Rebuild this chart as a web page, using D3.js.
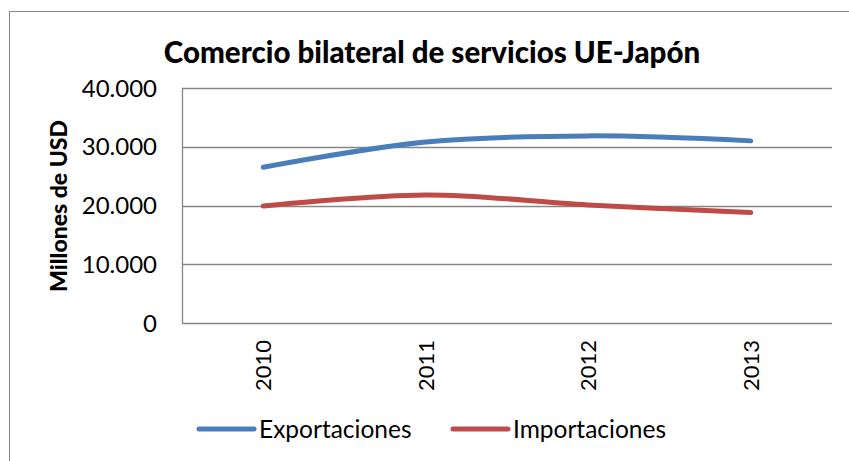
<!DOCTYPE html>
<html>
<head>
<meta charset="utf-8">
<script src="https://cdn.jsdelivr.net/npm/d3@7"></script>
<style>
  html, body { margin: 0; padding: 0; background: #fff; }
  svg { display: block; font-family: Lato, "Open Sans", sans-serif; }
</style>
</head>
<body>
<div id="container"></div>
<script>
'use strict';
(function() {
    // chart data
    var years = ['2010', '2011', '2012', '2013'];
    var exportaciones = [26500, 30800, 31850, 31000];
    var importaciones = [19900, 21800, 20100, 18800];
    var yTicks = [0, 10000, 20000, 30000, 40000];
    var seriesNames = ['Exportaciones', 'Importaciones'];
    var colors = { 'Exportaciones': '#4A7EBB', 'Importaciones': '#BE4B48' };

    var W = 849, H = 461;
    var plot = { left: 182, right: 832, top: 88, bottom: 323 };

    var svg = d3.select('#container').append('svg')
        .attr('width', W)
        .attr('height', H);

    // outer chart border (runs past the picture on right and bottom)
    svg.append('rect')
        .attr('x', 9.5).attr('y', 11.5)
        .attr('width', 860).attr('height', 470)
        .attr('fill', 'none')
        .attr('stroke', '#868686');

    var x = d3.scaleBand()
        .domain(years)
        .range([plot.left, plot.right]);
    var y = d3.scaleLinear()
        .domain([0, 40000])
        .range([plot.bottom, plot.top]);

    var fmt = function(v) {
        return d3.format(',')(v).replace(/,/g, '.');
    };

    // gridlines
    svg.append('g')
        .attr('class', 'grid')
        .selectAll('line')
        .data(yTicks.filter(function(d) { return d > 0; }))
        .enter().append('line')
        .attr('x1', plot.left).attr('x2', plot.right)
        .attr('y1', function(d) { return Math.round(y(d)) + 0.5; })
        .attr('y2', function(d) { return Math.round(y(d)) + 0.5; })
        .attr('stroke', '#868686')
        .attr('stroke-width', 1.3);

    // axis lines
    svg.append('line')
        .attr('x1', plot.left + 0.5).attr('x2', plot.left + 0.5)
        .attr('y1', plot.top).attr('y2', plot.bottom + 0.5)
        .attr('stroke', '#868686').attr('stroke-width', 1.3);
    svg.append('line')
        .attr('x1', plot.left).attr('x2', plot.right)
        .attr('y1', plot.bottom + 0.5).attr('y2', plot.bottom + 0.5)
        .attr('stroke', '#868686').attr('stroke-width', 1.3);

    // y tick labels
    svg.append('g')
        .selectAll('text')
        .data(yTicks)
        .enter().append('text')
        .attr('x', 157)
        .attr('y', function(d) { return y(d); })
        .attr('dy', '0.36em')
        .attr('text-anchor', 'end')
        .style('font-size', '24px')
        .attr('fill', '#000')
        .text(fmt);

    // x tick labels, rotated
    svg.append('g')
        .selectAll('text')
        .data(years)
        .enter().append('text')
        .attr('transform', function(d) {
            return 'translate(' + (x(d) + x.bandwidth() / 2) + ',340) rotate(-90)';
        })
        .attr('dy', '0.36em')
        .attr('text-anchor', 'end')
        .style('font-size', '22px')
        .attr('fill', '#000')
        .text(function(d) { return d; });

    // y axis title
    svg.append('text')
        .attr('transform', 'translate(59,206) rotate(-90)')
        .attr('dy', '0.36em')
        .attr('text-anchor', 'middle')
        .style('font-size', '23px')
        .style('font-weight', '900')
        .attr('fill', '#000')
        .text('Millones de USD');

    // chart title
    svg.append('text')
        .attr('x', 432)
        .attr('y', 63)
        .attr('text-anchor', 'middle')
        .style('font-size', '29.5px')
        .style('font-weight', '900')
        .attr('fill', '#000')
        .text('Comercio bilateral de servicios UE-Japón');

    // lines
    var line = d3.line()
        .x(function(d, i) { return x(years[i]) + x.bandwidth() / 2; })
        .y(function(d) { return y(d); })
        .curve(d3.curveCatmullRom.alpha(0));

    var seriesData = [exportaciones, importaciones];
    svg.append('g')
        .selectAll('path')
        .data(seriesData)
        .enter().append('path')
        .attr('d', line)
        .attr('fill', 'none')
        .attr('stroke', function(d, i) { return colors[seriesNames[i]]; })
        .attr('stroke-width', 5)
        .attr('stroke-linecap', 'round')
        .attr('stroke-linejoin', 'round');

    // legend
    var legendX = [199, 453];
    var legend = svg.append('g')
        .selectAll('g')
        .data(seriesNames)
        .enter().append('g')
        .attr('transform', function(d, i) { return 'translate(' + legendX[i] + ',429)'; });
    legend.append('line')
        .attr('x1', 0).attr('x2', 55)
        .attr('stroke', function(d) { return colors[d]; })
        .attr('stroke-width', 5)
        .attr('stroke-linecap', 'round');
    legend.append('text')
        .attr('x', 60)
        .attr('dy', '0.36em')
        .style('font-size', '24.5px')
        .attr('fill', '#000')
        .text(function(d) { return d; });
})();
</script>
</body>
</html>
